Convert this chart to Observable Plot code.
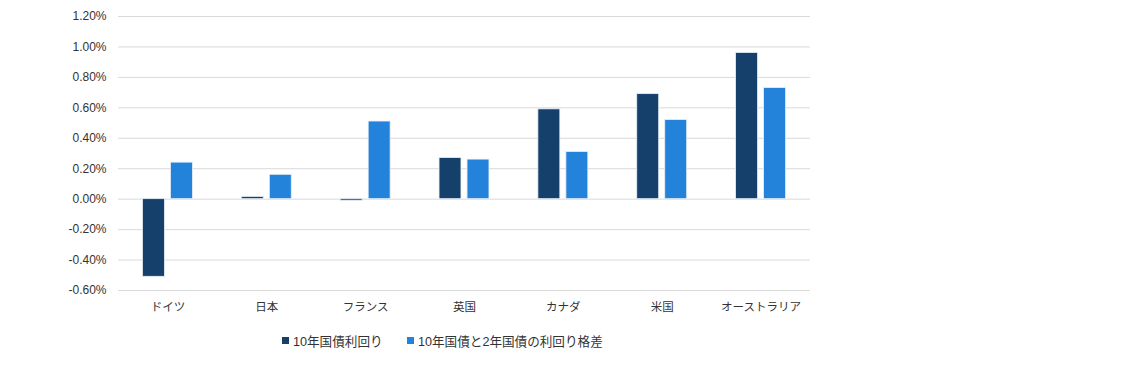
<!DOCTYPE html>
<html>
<head>
<meta charset="utf-8">
<script src="https://cdn.jsdelivr.net/npm/d3@7"></script>
<script src="https://cdn.jsdelivr.net/npm/@observablehq/plot@0.6"></script>
<style>
  body { margin: 0; background: #fff; font-family: "Liberation Sans", Arial, "Noto Sans CJK JP", sans-serif; }
  #chart svg { display: block; }
  .legend { position: relative; height: 30px; font-size: 12.6px; color: #333; }
  .legend .item { position: absolute; top: 1px; display: flex; align-items: center; white-space: nowrap; }
  .legend .sw { width: 7px; height: 7px; margin-right: 4px; }
</style>
</head>
<body>
<div id="chart"></div>
<script>
const countries = ["ドイツ", "日本", "フランス", "英国", "カナダ", "米国", "オーストラリア"];
const seriesNames = ["10年国債利回り", "10年国債と2年国債の利回り格差"];
const yield10 = [-0.51, 0.015, -0.01, 0.27, 0.59, 0.69, 0.96];
const spread10_2 = [0.24, 0.16, 0.51, 0.26, 0.31, 0.52, 0.73];
const yTicks = [-0.6, -0.4, -0.2, 0, 0.2, 0.4, 0.6, 0.8, 1.0, 1.2];
const colors = ["#15406c", "#2383db"];

const d1 = countries.map((c, i) => ({country: c, value: yield10[i], series: seriesNames[0]}));
const d2 = countries.map((c, i) => ({country: c, value: spread10_2[i], series: seriesNames[1]}));

const chart = Plot.plot({
  width: 1134,
  height: 330,
  marginLeft: 118,
  marginRight: 324,
  marginTop: 16,
  marginBottom: 40,
  style: {fontFamily: '"Liberation Sans", Arial, "Noto Sans CJK JP", sans-serif', fontSize: "12px", color: "#333", background: "#fff"},
  x: {domain: countries, paddingInner: 0.778, paddingOuter: 0.389, round: false, label: null, tickSize: 0, tickPadding: 12, tickFormat: d => d},
  y: {domain: [-0.6, 1.2], ticks: yTicks, tickFormat: d => d.toFixed(2) + "%", label: null, tickSize: 0, tickPadding: 12},
  color: {domain: seriesNames, range: colors},
  marks: [
    Plot.ruleY(yTicks, {stroke: "#d9d9d9", strokeWidth: 1}),
    Plot.barY(d1, {x: "country", y: "value", fill: "series", dx: -14, stroke: "#e8eef6", strokeWidth: 0.8}),
    Plot.barY(d2, {x: "country", y: "value", fill: "series", dx: 14, stroke: "#e8eef6", strokeWidth: 0.8})
  ]
});
chart.querySelectorAll("g[aria-label='x-axis tick label'] text").forEach(t => t.setAttribute("font-size", "11.5"));
document.getElementById("chart").appendChild(chart);

const legend = document.createElement("div");
legend.className = "legend";
const positions = [282, 407];
seriesNames.forEach((name, i) => {
  const item = document.createElement("div");
  item.className = "item";
  item.style.left = positions[i] + "px";
  const sw = document.createElement("span");
  sw.className = "sw";
  sw.style.background = colors[i];
  const t = document.createElement("span");
  t.textContent = name;
  item.appendChild(sw);
  item.appendChild(t);
  legend.appendChild(item);
});
document.getElementById("chart").appendChild(legend);
</script>
</body>
</html>
